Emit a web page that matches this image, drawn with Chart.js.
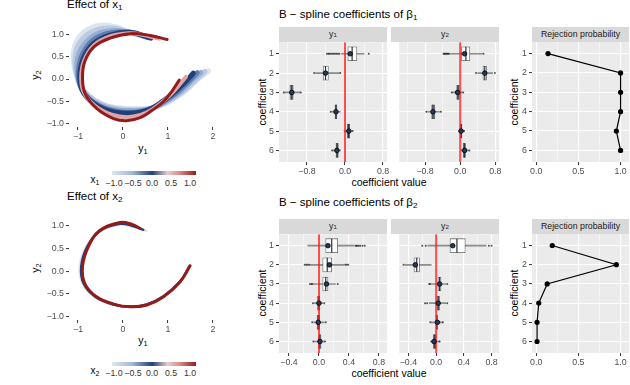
<!DOCTYPE html>
<html>
<head>
<meta charset="utf-8">
<title>B-spline coefficients</title>
<script src="https://cdn.jsdelivr.net/npm/chart.js@4.4.1/dist/chart.umd.min.js"></script>
<style>
  body { margin: 0; width: 630px; height: 385px; position: relative; overflow: hidden; background: #fff;
         font-family: "Liberation Sans", Arial, sans-serif; color: #000; }
  canvas { position: absolute; }
  .txt { position: absolute; white-space: nowrap; line-height: 1; transform: translate(-50%, -50%); }
  .rot { transform: translate(-50%, -50%) rotate(-90deg); }
  .title { position: absolute; white-space: nowrap; line-height: 1; font-size: 11.5px; }
  .strip { position: absolute; background: #d9d9d9; color: #1a1a1a; font-size: 8.8px; line-height: 1;
           display: flex; align-items: center; justify-content: center; }
  .axt { font-size: 10.5px; }
  .leg { font-size: 8.8px; color: #333; }
  .cbar { position: absolute; height: 4px;
          background: linear-gradient(to right, #dde6f0 0%, #a3b8d6 24%, #21407a 48%, #e6cdd2 66%, #d98e8e 80%, #961b1b 100%); }
  sub { font-size: 70%; vertical-align: -0.3em; line-height: 0; }
</style>
</head>
<body>

<div class="title" style="left:67px;top:-1px">Effect of x<sub>1</sub></div>
<div class="title" style="left:67px;top:191px">Effect of x<sub>2</sub></div>
<div class="title" style="left:279px;top:9px">B &minus; spline coefficients of &beta;<sub>1</sub></div>
<div class="title" style="left:279px;top:197px">B &minus; spline coefficients of &beta;<sub>2</sub></div>

<div class="strip" style="left:279px;top:27px;width:108px;height:15px">y<sub>1</sub></div>
<div class="strip" style="left:391px;top:27px;width:108px;height:15px">y<sub>2</sub></div>
<div class="strip" style="left:532px;top:27px;width:97px;height:15px">Rejection probability</div>
<div class="strip" style="left:279px;top:219px;width:108px;height:15px">y<sub>1</sub></div>
<div class="strip" style="left:391px;top:219px;width:108px;height:15px">y<sub>2</sub></div>
<div class="strip" style="left:532px;top:219px;width:97px;height:15px">Rejection probability</div>

<div class="txt axt" style="left:143px;top:148px">y<sub>1</sub></div>
<div class="txt axt" style="left:143px;top:340px">y<sub>1</sub></div>
<div class="txt axt rot" style="left:35px;top:75px">y<sub>2</sub></div>
<div class="txt axt rot" style="left:35px;top:268px">y<sub>2</sub></div>
<div class="txt axt" style="left:389px;top:182px">coefficient value</div>
<div class="txt axt" style="left:389px;top:373px">coefficient value</div>
<div class="txt axt rot" style="left:262px;top:102px">coefficient</div>
<div class="txt axt rot" style="left:262px;top:293px">coefficient</div>
<div class="txt axt rot" style="left:514px;top:102px">coefficient</div>
<div class="txt axt rot" style="left:514px;top:293px">coefficient</div>

<div class="txt" style="left:95px;top:180px;font-size:10px">x<sub>1</sub></div>
<div class="cbar" style="left:112px;top:171px;width:84px"></div>
<div class="txt leg" style="left:114px;top:183px">&minus;1.0</div>
<div class="txt leg" style="left:133px;top:183px">&minus;0.5</div>
<div class="txt leg" style="left:152px;top:183px">0.0</div>
<div class="txt leg" style="left:171px;top:183px">0.5</div>
<div class="txt leg" style="left:190px;top:183px">1.0</div>

<div class="txt" style="left:95px;top:371px;font-size:10px">x<sub>2</sub></div>
<div class="cbar" style="left:112px;top:362px;width:84px"></div>
<div class="txt leg" style="left:114px;top:373px">&minus;1.0</div>
<div class="txt leg" style="left:133px;top:373px">&minus;0.5</div>
<div class="txt leg" style="left:152px;top:373px">0.0</div>
<div class="txt leg" style="left:171px;top:373px">0.5</div>
<div class="txt leg" style="left:190px;top:373px">1.0</div>

<script>
// ---- data ----
const coefs = [1, 2, 3, 4, 5, 6];

// rejection probability of each coefficient
const rejBeta1 = [0.14, 1.0, 1.0, 1.0, 0.95, 1.0];
const rejBeta2 = [0.19, 0.95, 0.13, 0.03, 0.01, 0.01];

// beta1, y1 : whisker low, quartiles, median, whisker high, estimate, outliers
const b1y1Lo  = [-0.08, -0.62, -1.27, -0.28, -0.02, -0.25];
const b1y1Q1  = [0.06, -0.46, -1.16, -0.21, 0.05, -0.19];
const b1y1Med = [0.15, -0.41, -1.12, -0.19, 0.075, -0.165];
const b1y1Q3  = [0.25, -0.35, -1.09, -0.17, 0.10, -0.14];
const b1y1Hi  = [0.40, -0.12, -0.95, -0.10, 0.14, -0.09];
const b1y1Est = [0.11, -0.41, -1.12, -0.19, 0.08, -0.17];
const b1y1Out = [[-0.38, -0.35, -0.33, -0.3, -0.27, -0.24, -0.21, -0.18, -0.15, -0.12, 0.5], [-0.65, -0.1], [-1.29, -0.93], [-0.3], [0.16], [-0.27]];

// beta1, y2
const b1y2Lo  = [-0.24, 0.40, -0.17, -0.74, -0.04, 0.0];
const b1y2Q1  = [0.03, 0.52, -0.08, -0.65, 0.01, 0.07];
const b1y2Med = [0.13, 0.56, -0.05, -0.62, 0.025, 0.10];
const b1y2Q3  = [0.22, 0.60, -0.02, -0.58, 0.04, 0.12];
const b1y2Hi  = [0.50, 0.74, 0.05, -0.47, 0.08, 0.19];
const b1y2Est = [0.10, 0.56, -0.06, -0.62, 0.02, 0.10];
const b1y2Out = [[-0.38, -0.36, -0.34, -0.32, -0.3, -0.28, -0.26, 0.53], [0.36, 0.79], [-0.19, 0.07], [-0.77, -0.44], [0.09], [0.21]];

// beta2, y1
const b2y1Lo  = [-0.15, -0.12, -0.08, -0.06, -0.07, -0.06];
const b2y1Q1  = [0.09, 0.05, 0.05, -0.02, -0.025, -0.005];
const b2y1Med = [0.17, 0.11, 0.09, 0.0, -0.01, 0.01];
const b2y1Q3  = [0.25, 0.17, 0.12, 0.013, 0.009, 0.027];
const b2y1Hi  = [0.47, 0.33, 0.22, 0.05, 0.07, 0.07];
const b2y1Est = [0.12, 0.14, 0.10, 0.0, -0.01, 0.013];
const b2y1Out = [[0.49, 0.5, 0.51, 0.53, 0.55, 0.58, 0.61], [-0.19, -0.17, -0.15, -0.13, 0.35, 0.37, 0.39], [-0.12, -0.1, -0.09, 0.25], [-0.08, 0.07], [-0.09, 0.09], [-0.075, 0.08]];

// beta2, y2
const b2y2Lo  = [-0.12, -0.45, -0.08, -0.10, -0.07, -0.06];
const b2y2Q1  = [0.20, -0.32, 0.027, 0.013, 0.0, -0.04];
const b2y2Med = [0.30, -0.28, 0.05, 0.03, 0.01, -0.02];
const b2y2Q3  = [0.42, -0.24, 0.07, 0.049, 0.02, 0.0];
const b2y2Hi  = [0.72, -0.07, 0.14, 0.14, 0.09, 0.05];
const b2y2Est = [0.24, -0.30, 0.05, 0.03, 0.018, -0.03];
const b2y2Out = [[-0.2, -0.15, 0.76, 0.8], [-0.47], [-0.1, -0.09, 0.16], [-0.16, -0.13, 0.16], [-0.085, 0.097], [-0.07, 0.05]];

// effect of x1 on the (y1, y2) curve, one curve per x1 value
const x1Values = [-1, -0.75, -0.5, -0.25, 0, 0.5, 1];
const x1CurveM100 = [[0.45,0.95],[0.16,1.03],[-0.15,1.16],[-0.5,1.2],[-0.8,1.1],[-1.0,0.9],[-1.1,0.62],[-1.08,0.25],[-0.97,-0.1],[-0.75,-0.38],[-0.45,-0.56],[-0.1,-0.64],[0.3,-0.66],[0.64,-0.65],[1.0,-0.52],[1.4,-0.26],[1.65,-0.02],[1.9,0.18]];
const x1CurveM075 = [[0.5,0.94],[0.16,1.035],[-0.18,1.13],[-0.54,1.11],[-0.83,0.96],[-1.02,0.7],[-1.07,0.38],[-1.02,0.05],[-0.88,-0.25],[-0.62,-0.48],[-0.3,-0.62],[0.05,-0.68],[0.35,-0.68],[0.64,-0.65],[0.98,-0.51],[1.33,-0.28],[1.6,-0.04],[1.82,0.17]];
const x1CurveM050 = [[0.55,0.93],[0.16,1.04],[-0.22,1.08],[-0.58,1.0],[-0.84,0.8],[-1.0,0.5],[-1.02,0.15],[-0.93,-0.2],[-0.7,-0.47],[-0.35,-0.64],[0.0,-0.7],[0.35,-0.7],[0.64,-0.65],[0.95,-0.5],[1.25,-0.3],[1.5,-0.06],[1.73,0.15]];
const x1CurveM025 = [[0.58,0.92],[0.16,1.04],[-0.26,1.03],[-0.62,0.9],[-0.86,0.63],[-0.98,0.28],[-0.97,-0.08],[-0.8,-0.4],[-0.5,-0.61],[-0.12,-0.72],[0.22,-0.74],[0.45,-0.71],[0.64,-0.65],[0.92,-0.49],[1.18,-0.31],[1.43,-0.08],[1.65,0.14]];
const x1CurveP000 = [[0.62,0.91],[0.16,1.04],[-0.29,0.98],[-0.66,0.79],[-0.88,0.46],[-0.96,0.05],[-0.88,-0.3],[-0.62,-0.56],[-0.25,-0.72],[0.1,-0.76],[0.4,-0.73],[0.64,-0.65],[0.9,-0.48],[1.1,-0.33],[1.35,-0.1],[1.56,0.13]];
const x1CurveP050 = [[0.8,0.9],[0.4,0.99],[0.16,1.02],[-0.29,0.95],[-0.65,0.75],[-0.86,0.42],[-0.93,0.03],[-0.86,-0.32],[-0.6,-0.61],[-0.23,-0.8],[0.09,-0.85],[0.39,-0.8],[0.64,-0.68],[0.9,-0.49],[1.12,-0.28],[1.4,0.05]];
const x1CurveP100 = [[0.98,0.88],[0.6,0.97],[0.16,1.01],[-0.29,0.91],[-0.64,0.72],[-0.85,0.39],[-0.9,0.02],[-0.84,-0.33],[-0.58,-0.66],[-0.21,-0.88],[0.08,-0.93],[0.38,-0.86],[0.64,-0.7],[0.9,-0.5],[1.1,-0.25],[1.25,-0.02]];

// effect of x2
const x2Values = [-1, 0, 1];
const x2CurveM100 = [[0.52,0.89],[0.2,0.98],[-0.07,1.02],[-0.53,0.86],[-0.83,0.52],[-0.96,0.1],[-0.89,-0.29],[-0.61,-0.58],[-0.21,-0.74],[0.16,-0.78],[0.53,-0.72],[0.9,-0.54],[1.27,-0.21],[1.47,0.12]];
const x2CurveP000 = [[0.45,0.91],[0.2,1.0],[-0.07,1.04],[-0.52,0.88],[-0.8,0.53],[-0.93,0.1],[-0.87,-0.28],[-0.6,-0.57],[-0.21,-0.73],[0.16,-0.78],[0.53,-0.73],[0.9,-0.55],[1.27,-0.22],[1.48,0.12]];
const x2CurveP100 = [[0.38,0.94],[0.2,1.03],[-0.07,1.07],[-0.51,0.9],[-0.77,0.54],[-0.9,0.1],[-0.85,-0.27],[-0.59,-0.56],[-0.21,-0.72],[0.16,-0.78],[0.53,-0.74],[0.9,-0.56],[1.27,-0.23],[1.49,0.12]];

// ---- styling helpers ----
Chart.defaults.font.family = '"Liberation Sans", Arial, sans-serif';
Chart.defaults.animation = false;

const levelColours = {
  '-1': '#dde6f0', '-0.75': '#bccbe1', '-0.5': '#97aed2', '-0.25': '#5f7fb1',
  '0': '#21407a', '0.5': '#e0a6aa', '1': '#951b1b'
};
const levelWidths = { '1': 3, '0.5': 4 };

function isMajor(v, major) {
  const r = v / major;
  return Math.abs(r - Math.round(r)) < 1e-6;
}
function fmt(v, digits) {
  return (v < -1e-9 ? '\u2212' : '') + Math.abs(v).toFixed(digits);
}

// grey panel background like ggplot
Chart.register({
  id: 'panelBg',
  beforeDraw(chart, args, opts) {
    if (!opts || !opts.color) return;
    const a = chart.chartArea, ctx = chart.ctx;
    ctx.save();
    ctx.fillStyle = opts.color;
    ctx.fillRect(a.left, a.top, a.right - a.left, a.bottom - a.top);
    ctx.restore();
  }
});

function makeCanvas(l, t, w, h) {
  const c = document.createElement('canvas');
  c.width = w; c.height = h;
  c.style.left = l + 'px'; c.style.top = t + 'px';
  c.style.width = w + 'px'; c.style.height = h + 'px';
  document.body.appendChild(c);
  return c;
}

// fixed chart area: canvas is placed so the plotting area lands exactly on `area`
function areaChart(area, yW, config) {
  const cv = makeCanvas(area.l - yW, area.t - 8, yW + area.w + 10, area.h + 8 + 14);
  config.options.responsive = false;
  config.options.layout = { padding: { top: 8, right: 10, left: 0, bottom: 0 } };
  config.options.plugins = Object.assign({ legend: { display: false }, tooltip: { enabled: false } }, config.options.plugins || {});
  return new Chart(cv, config);
}

function xAxis(min, max, step, major, digits, gridOn) {
  return {
    type: 'linear', min: min, max: max, offset: false,
    afterFit: s => { s.height = 14; },
    border: { display: false },
    grid: {
      display: true, offset: false, drawOnChartArea: gridOn,
      color: '#fff',
      lineWidth: c => (c.tick && isMajor(c.tick.value, major)) ? 1.1 : 0.5,
      tickColor: c => (c.tick && isMajor(c.tick.value, major)) ? '#333' : 'rgba(0,0,0,0)',
      tickWidth: 1, tickLength: 3
    },
    ticks: {
      stepSize: step, includeBounds: false, autoSkip: false, maxRotation: 0, minRotation: 0,
      padding: 1, color: '#4d4d4d', font: { size: 8.8 },
      callback: v => isMajor(v, major) ? fmt(v, digits) : ''
    }
  };
}

function coefAxis(show) {
  return {
    type: 'linear', reverse: true, min: 0.4, max: 6.6, offset: false,
    afterFit: s => { s.width = show ? 18 : 0; },
    border: { display: false },
    grid: { offset: false, color: '#fff', lineWidth: 1.1, tickColor: '#333', tickWidth: 1, tickLength: 3, drawTicks: show },
    ticks: { display: show, stepSize: 1, includeBounds: false, autoSkip: false, padding: 2, color: '#4d4d4d', font: { size: 8.8 } }
  };
}

function boxPanel(area, showY, xr, lo, q1, med, q3, hi, est, out, fills) {
  const whisk = coefs.map((r, i) => ({ y: r, x: [lo[i], hi[i]] }));
  const boxes = coefs.map((r, i) => ({ y: r, x: [q1[i], q3[i]] }));
  const meds = coefs.map((r, i) => ({ x: med[i], y: r }));
  const ests = coefs.map((r, i) => ({ x: est[i], y: r }));
  const outs = [];
  out.forEach((arr, i) => arr.forEach(v => outs.push({ x: v, y: coefs[i] })));
  return areaChart(area, showY ? 18 : 0, {
    type: 'bar',
    data: {
      datasets: [
        { type: 'scatter', data: ests, order: 1, pointRadius: 2.3, pointBackgroundColor: '#1f3b63', pointBorderColor: '#000', pointBorderWidth: 0.8 },
        { type: 'scatter', data: outs, order: 2, pointRadius: 1, pointBackgroundColor: 'rgba(40,40,40,0.8)', pointBorderWidth: 0 },
        { type: 'scatter', data: [{ x: 0, y: 0.4 }, { x: 0, y: 6.6 }], showLine: true, order: 3, borderColor: 'rgba(255,20,20,0.75)', borderWidth: 2, pointRadius: 0 },
        { type: 'scatter', data: meds, order: 4, pointStyle: 'line', pointRotation: 90, pointRadius: 7, pointBorderColor: '#333', pointBorderWidth: 1.2 },
        { type: 'bar', data: boxes, order: 5, barThickness: 14, grouped: false, backgroundColor: fills, borderColor: 'rgba(51,51,51,0.75)', borderWidth: 0.8, borderSkipped: false },
        { type: 'bar', data: whisk, order: 6, barThickness: 1, grouped: false, backgroundColor: 'rgba(51,51,51,0.55)', borderWidth: 0 }
      ]
    },
    options: {
      indexAxis: 'y',
      plugins: { panelBg: { color: '#ebebeb' } },
      scales: { x: xAxis(xr[0], xr[1], xr[2], xr[3], 1, true), y: coefAxis(showY) }
    }
  });
}

function rejPanel(area, rej) {
  return areaChart(area, 18, {
    type: 'scatter',
    data: { datasets: [{
      data: coefs.map((r, i) => ({ x: rej[i], y: r })),
      showLine: true, borderColor: '#000', borderWidth: 1.2,
      pointRadius: 2.6, pointBackgroundColor: '#000', pointBorderWidth: 0
    }] },
    options: {
      plugins: { panelBg: { color: '#ebebeb' } },
      scales: { x: xAxis(-0.05, 1.1, 0.25, 0.5, 1, true), y: coefAxis(true) }
    }
  });
}

function curvePanel(area, yr, levels, curves, width) {
  // first dataset is painted last in Chart.js, so give the highest level the lowest order
  const datasets = curves.map((pts, k) => {
    const key = String(levels[k]);
    return {
      data: pts.map(p => ({ x: p[0], y: p[1] })),
      order: curves.length - k,
      showLine: true, tension: 0.4, capBezierPoints: false, clip: false,
      borderColor: levelColours[key], borderWidth: levelWidths[key] || width,
      borderCapStyle: 'round', borderJoinStyle: 'round', pointRadius: 0
    };
  });
  const yAx = xAxis(yr[0], yr[1], 0.5, 0.5, 1, false);
  yAx.afterFit = s => { s.width = 30; };
  yAx.ticks.padding = 2;
  return areaChart(area, 30, {
    type: 'scatter',
    data: { datasets: datasets },
    options: {
      scales: {
        x: xAxis(-1.2, 2.11, 1, 1, 0, false),
        y: yAx
      }
    }
  });
}

// ---- panels ----
curvePanel({ l: 69, t: 22, w: 149, h: 105 }, [-1.067, 1.27], x1Values,
  [x1CurveM100, x1CurveM075, x1CurveM050, x1CurveM025, x1CurveP000, x1CurveP050, x1CurveP100], 5);
curvePanel({ l: 69, t: 213, w: 149, h: 107 }, [-1.07, 1.28], x2Values,
  [x2CurveM100, x2CurveP000, x2CurveP100], 2.4);

const topRange = [-1.389, 0.884, 0.4, 0.8];
const botRange = [-0.533, 0.907, 0.2, 0.4];

boxPanel({ l: 279, t: 42, w: 108, h: 120 }, true, topRange, b1y1Lo, b1y1Q1, b1y1Med, b1y1Q3, b1y1Hi, b1y1Est, b1y1Out,
  ['#fff', '#fff', '#a0a0a0', '#7a7a7a', '#7a7a7a', '#7a7a7a']);
boxPanel({ l: 391, t: 42, w: 108, h: 120 }, false, topRange, b1y2Lo, b1y2Q1, b1y2Med, b1y2Q3, b1y2Hi, b1y2Est, b1y2Out,
  ['#fff', '#fff', '#8a8a8a', '#a0a0a0', '#7a7a7a', '#7a7a7a']);
boxPanel({ l: 279, t: 234, w: 108, h: 119 }, true, botRange, b2y1Lo, b2y1Q1, b2y1Med, b2y1Q3, b2y1Hi, b2y1Est, b2y1Out,
  ['#fff', '#fff', '#fff', '#a0a0a0', '#a0a0a0', '#a0a0a0']);
boxPanel({ l: 391, t: 234, w: 108, h: 119 }, false, botRange, b2y2Lo, b2y2Q1, b2y2Med, b2y2Q3, b2y2Hi, b2y2Est, b2y2Out,
  ['#fff', '#fff', '#fff', '#c8c8c8', '#7a7a7a', '#7a7a7a']);

rejPanel({ l: 532, t: 42, w: 97, h: 120 }, rejBeta1);
rejPanel({ l: 532, t: 234, w: 97, h: 119 }, rejBeta2);
</script>
</body>
</html>
